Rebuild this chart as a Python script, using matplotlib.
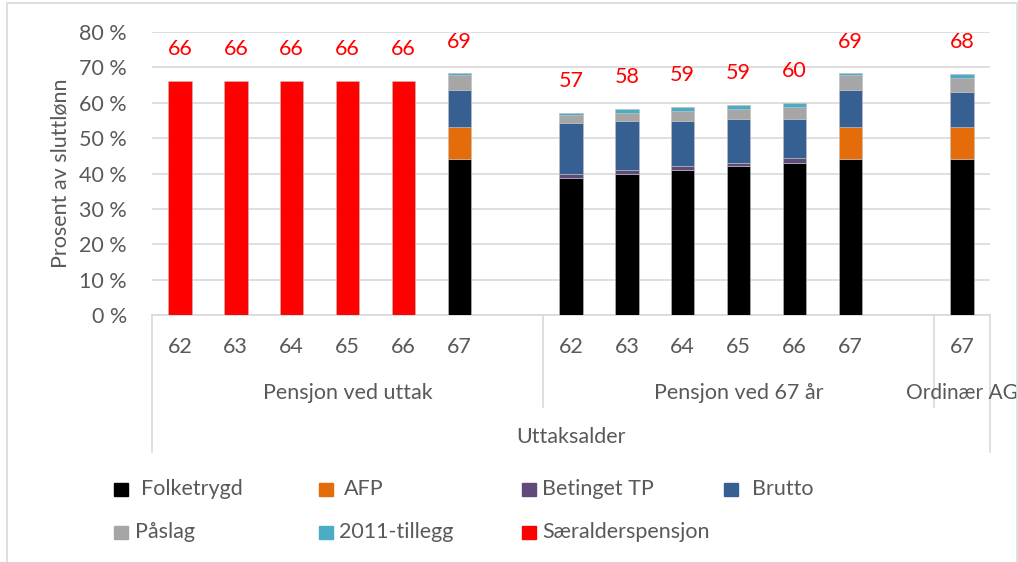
import matplotlib.pyplot as plt
from matplotlib.patches import Rectangle
import numpy as np

plt.rcParams['font.family'] = ['Lato', 'DejaVu Sans']

# ----------------------------
# Data
# ----------------------------

group_names = ['Pensjon ved uttak', 'Pensjon ved 67 år', 'Ordinær AG']
group_ages = [['62', '63', '64', '65', '66', '67'],
              ['62', '63', '64', '65', '66', '67'],
              ['67']]

series_names = ['Folketrygd', 'AFP', 'Betinget TP', 'Brutto',
                'Påslag', '2011-tillegg', 'Særalderspensjon']
folketrygd = [0, 0, 0, 0, 0, 44.2, 38.8, 39.8, 41.0, 42.0, 43.0, 44.2, 44.2]
afp = [0, 0, 0, 0, 0, 9.0, 0, 0, 0, 0, 0, 9.0, 9.0]
betinget_tp = [0, 0, 0, 0, 0, 0, 1.0, 1.2, 1.1, 1.1, 1.3, 0, 0]
brutto = [0, 0, 0, 0, 0, 10.4, 14.5, 13.9, 12.8, 12.4, 11.2, 10.4, 9.9]
paslag = [0, 0, 0, 0, 0, 4.2, 2.2, 2.2, 2.7, 2.7, 3.3, 4.2, 4.0]
tillegg_2011 = [0, 0, 0, 0, 0, 0.5, 0.6, 1.1, 1.2, 1.1, 1.1, 0.5, 1.0]
saeralder = [66.1, 66.1, 66.1, 66.1, 66.1, 0, 0, 0, 0, 0, 0, 0, 0]
total_labels = [66, 66, 66, 66, 66, 69, 57, 58, 59, 59, 60, 69, 68]

colors = ['#000000', '#E46C0A', '#604A7B', '#366092',
          '#A6A6A6', '#4BACC6', '#FF0000']
text_color = '#595959'
grid_color = '#D9D9D9'
fs = 15.5

# ----------------------------
# Layout helpers
# ----------------------------

# one empty slot after each group
positions = []
bounds = [-0.5]
slot = 0
for ages in group_ages:
    for _ in ages:
        positions.append(slot)
        slot += 1
    slot += 1
    bounds.append(slot - 0.5)
bounds[-1] = positions[-1] + 0.5
positions = np.array(positions)

fig = plt.figure(figsize=(10.18, 5.62), dpi=100)
ax = fig.add_axes([152 / 1018, 1 - 315 / 562, (990 - 152) / 1018, 283 / 562])

series = [folketrygd, afp, betinget_tp, brutto, paslag, tillegg_2011, saeralder]
bottom = np.zeros(len(positions))
for name, vals, col in zip(series_names, series, colors):
    vals = np.array(vals)
    ax.bar(positions, vals, width=0.42, bottom=bottom, color=col,
           edgecolor='#BFBFBF', linewidth=0.4, label=name, zorder=3)
    bottom += vals

for x, tot, lab in zip(positions, bottom, total_labels):
    ax.text(x, tot + 9.0, str(lab), color='#FF0000', ha='center', va='center',
            fontsize=fs)

ax.set_xlim(-0.5, bounds[-1])
ax.set_ylim(0, 80)
ax.set_yticks(np.arange(0, 81, 10))
ax.set_yticklabels([f'{v} %' for v in range(0, 81, 10)])
ax.tick_params(axis='y', length=0, pad=18, labelsize=fs, labelcolor=text_color)
ax.grid(axis='y', color=grid_color, linewidth=1.2, zorder=0)
for s in ['top', 'right', 'left']:
    ax.spines[s].set_visible(False)
ax.spines['bottom'].set_color(grid_color)
ax.spines['bottom'].set_linewidth(1.2)

ax.set_xticks(positions)
ax.set_xticklabels(sum(group_ages, []))
ax.tick_params(axis='x', length=0, pad=16, labelsize=fs, labelcolor=text_color)

ax.set_ylabel('Prosent av sluttlønn', fontsize=fs, color=text_color)
ax.yaxis.set_label_coords(-0.097, 0.5)

# multi-level category axis
tr = ax.get_xaxis_transform()
for b in bounds[1:-1]:
    ax.plot([b, b], [0, -0.325], transform=tr, color=grid_color, lw=1.2, clip_on=False)
for b in [bounds[0], bounds[-1]]:
    ax.plot([b, b], [0, -0.484], transform=tr, color=grid_color, lw=1.2, clip_on=False)

for i, name in enumerate(group_names):
    if i < len(group_names) - 1:
        ax.text((bounds[i] + bounds[i + 1]) / 2, -0.276, name, transform=tr,
                ha='center', va='center', fontsize=fs, color=text_color)
    else:
        ax.text(bounds[i] - 0.5, -0.276, name, transform=tr,
                ha='left', va='center', fontsize=fs - 0.5, color=text_color)
ax.text((bounds[0] + bounds[-1]) / 2, -0.431, 'Uttaksalder', transform=tr,
        ha='center', va='center', fontsize=fs, color=text_color)

# legend, laid out like the Excel one
col_x = [114, 319, 522, 724]
row_y = [489, 532]
text_gap = [27, 25, 20, 28, 21, 20, 20]
for i, (name, col) in enumerate(zip(series_names, colors)):
    r, c = divmod(i, 4)
    x0 = col_x[c] / 1018
    y0 = 1 - row_y[r] / 562
    fig.patches.append(Rectangle((x0, y0 - 6.5 / 562), 14 / 1018, 13 / 562,
                                 transform=fig.transFigure, color=col))
    fig.text(x0 + text_gap[i] / 1018, y0, name, ha='left', va='center',
             fontsize=fs, color=text_color)

# chart border
fig.patches.append(Rectangle((7 / 1018, -0.05), 1010 / 1018, 1.05 - 3 / 562,
                             transform=fig.transFigure, fill=False,
                             edgecolor=grid_color, linewidth=1.2))

fig.savefig('out.png', dpi=100)
